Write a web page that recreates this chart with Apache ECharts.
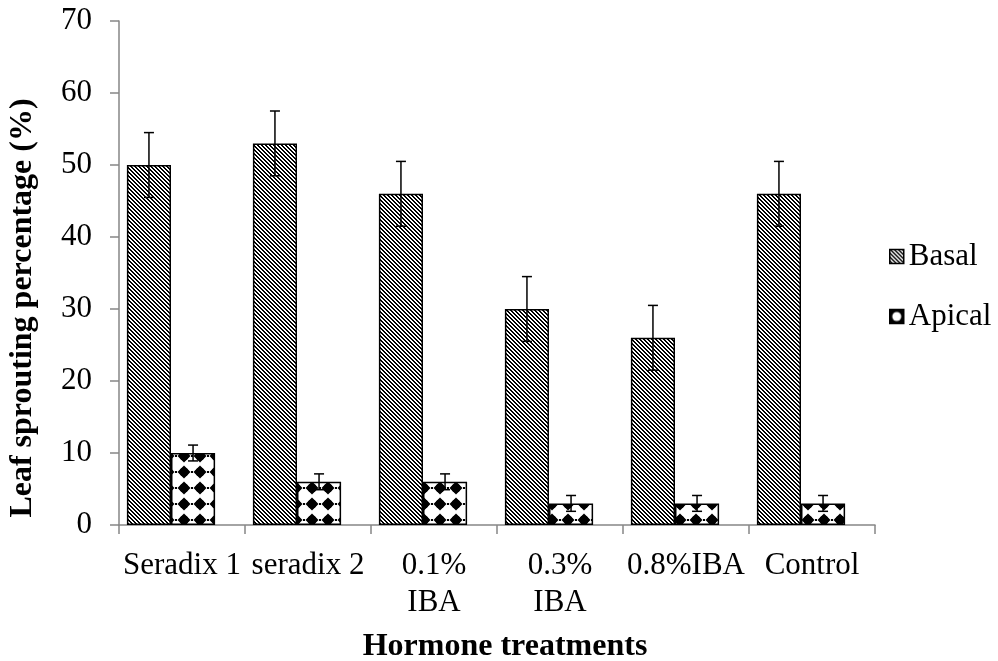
<!DOCTYPE html>
<html>
<head>
<meta charset="utf-8">
<script src="https://cdn.jsdelivr.net/npm/echarts@6/dist/echarts.min.js"></script>
<style>
  html, body { margin: 0; padding: 0; background: #ffffff; }
  #chart { width: 998px; height: 661px; }
</style>
</head>
<body>
<div id="chart"></div>
<script>
// Hormone treatments and leaf sprouting (%) by cutting position
const categories = ['Seradix 1', 'seradix 2', '0.1%\nIBA', '0.3%\nIBA', '0.8%IBA', 'Control'];
const basal = [50, 53, 46, 30, 26, 46];
const apical = [10, 6, 6, 3, 3, 3];
const basalErr = [4.5, 4.5, 4.5, 4.5, 4.5, 4.5];
const apicalErr = [1.1, 1.1, 1.1, 1.1, 1.1, 1.1];
const yTicks = [0, 10, 20, 30, 40, 50, 60, 70];

const FONT = 'Liberation Serif';
const AXIS_GRAY = '#868686';

// Downward diagonal hatch fill
function hatchPattern() {
  const c = document.createElement('canvas');
  c.width = 8; c.height = 8;
  const ctx = c.getContext('2d');
  ctx.fillStyle = '#ffffff';
  ctx.fillRect(0, 0, 8, 8);
  ctx.fillStyle = '#000000';
  for (let y = 0; y < 8; y++) {
    for (let x = 0; x < 8; x++) {
      const m = ((x - y) % 4 + 4) % 4;
      if (m === 0 || m === 1) ctx.fillRect(x, y, 1, 1);
    }
  }
  return c;
}

// Solid diamond fill
function diamondPattern() {
  const s = 16;
  const c = document.createElement('canvas');
  c.width = s; c.height = s;
  const ctx = c.getContext('2d');
  ctx.fillStyle = '#ffffff';
  ctx.fillRect(0, 0, s, s);
  ctx.fillStyle = '#000000';
  const cx = 8, cy = 8;
  ctx.beginPath();
  ctx.moveTo(cx, cy - 6.5); ctx.lineTo(cx + 6.5, cy); ctx.lineTo(cx, cy + 6.5); ctx.lineTo(cx - 6.5, cy);
  ctx.closePath();
  ctx.fill();
  ctx.beginPath();
  ctx.arc(cx, cy, 4.6, 0, Math.PI * 2);
  ctx.fill();
  // short dashes between motifs
  ctx.fillRect(0, 7, 1, 2);
  ctx.fillRect(15, 7, 1, 2);
  return c;
}

// Legend swatch for the diamond series
function apicalSwatch() {
  const s = 14;
  const c = document.createElement('canvas');
  c.width = s; c.height = s;
  const ctx = c.getContext('2d');
  ctx.fillStyle = '#000000';
  ctx.fillRect(0, 0, s, s);
  ctx.fillStyle = '#ffffff';
  ctx.beginPath();
  ctx.arc(7, 7, 4.5, 0, Math.PI * 2);
  ctx.fill();
  return c;
}

const hatch = hatchPattern();
const diamonds = diamondPattern();
const swatch = apicalSwatch();

const BAR_CATEGORY_GAP = 0.3;

function errorData(values, errs, side) {
  return values.map((v, i) => [i, v, errs[i], side]);
}

function renderError(params, api) {
  const idx = api.value(0);
  const v = api.value(1);
  const e = api.value(2);
  const side = api.value(3);
  const band = api.size([1, 0])[0];
  const barW = band * (1 - BAR_CATEGORY_GAP) / 2;
  const offset = side === 0 ? -barW / 2 : barW / 2;
  const hi = api.coord([idx, v + e]);
  const lo = api.coord([idx, v - e]);
  const x = hi[0] + offset;
  const cap = 5;
  const style = { stroke: '#000000', lineWidth: 1.5 };
  return {
    type: 'group',
    children: [
      { type: 'line', shape: { x1: x, y1: hi[1], x2: x, y2: lo[1] }, style },
      { type: 'line', shape: { x1: x - cap, y1: hi[1], x2: x + cap, y2: hi[1] }, style },
      { type: 'line', shape: { x1: x - cap, y1: lo[1], x2: x + cap, y2: lo[1] }, style }
    ]
  };
}

const chart = echarts.init(document.getElementById('chart'), null, { renderer: 'canvas' });

const yRange = {
  min: yTicks[0],
  max: yTicks[yTicks.length - 1],
  interval: yTicks[1] - yTicks[0]
};

chart.setOption({
  backgroundColor: '#ffffff',
  animation: false,
  textStyle: { fontFamily: FONT, color: '#000000' },
  grid: [
    // visible axes
    { left: 119, right: 123, top: 21, bottom: 136, containLabel: false, outerBoundsMode: 'none' },
    // bar clusters sit slightly left of each category centre
    { left: 108, right: 134, top: 21, bottom: 136, containLabel: false, outerBoundsMode: 'none' }
  ],
  legend: {
    orient: 'vertical',
    left: 884,
    top: 236,
    itemWidth: 14,
    itemHeight: 14,
    itemGap: 29,
    icon: 'rect',
    textStyle: { fontFamily: FONT, fontSize: 31, color: '#000000' },
    data: [
      { name: 'Basal', itemStyle: { color: { image: hatch, repeat: 'repeat' }, borderColor: '#000', borderWidth: 1.5 } },
      { name: 'Apical', itemStyle: { color: { image: swatch, repeat: 'no-repeat' }, borderColor: '#000', borderWidth: 1.5 } }
    ]
  },
  xAxis: [
    {
      gridIndex: 0,
      type: 'category',
      data: categories,
      name: 'Hormone treatments',
      nameLocation: 'middle',
      nameGap: 106,
      nameTextStyle: { fontFamily: FONT, fontSize: 32, fontWeight: 'bold', color: '#000000', padding: [0, 0, 0, 16] },
      axisLine: { lineStyle: { color: AXIS_GRAY, width: 1.5 } },
      axisTick: { show: true, length: 9, lineStyle: { color: AXIS_GRAY, width: 1.5 } },
      axisLabel: { interval: 0, margin: 22, fontFamily: FONT, fontSize: 31, lineHeight: 37, color: '#000000' },
      splitLine: { show: false }
    },
    {
      gridIndex: 1,
      type: 'category',
      data: categories,
      show: false
    }
  ],
  yAxis: [
    {
      gridIndex: 0,
      type: 'value',
      min: yRange.min,
      max: yRange.max,
      interval: yRange.interval,
      name: 'Leaf sprouting percentage (%)',
      nameLocation: 'middle',
      nameRotate: 90,
      nameGap: 80,
      nameTextStyle: { fontFamily: FONT, fontSize: 32, fontWeight: 'bold', color: '#000000', padding: [0, 70, 0, 0] },
      axisLine: { show: true, lineStyle: { color: AXIS_GRAY, width: 1.5 } },
      axisTick: { show: true, length: 9, lineStyle: { color: AXIS_GRAY, width: 1.5 } },
      axisLabel: { margin: 27, fontFamily: FONT, fontSize: 31, color: '#000000' },
      splitLine: { show: false }
    },
    {
      gridIndex: 1,
      type: 'value',
      min: yRange.min,
      max: yRange.max,
      interval: yRange.interval,
      show: false,
      splitLine: { show: false }
    }
  ],
  series: [
    {
      name: 'Basal',
      type: 'bar',
      xAxisIndex: 1,
      yAxisIndex: 1,
      data: basal,
      barGap: '0%',
      barCategoryGap: (BAR_CATEGORY_GAP * 100) + '%',
      itemStyle: { color: { image: hatch, repeat: 'repeat' }, borderColor: '#000000', borderWidth: 1.5 }
    },
    {
      name: 'Apical',
      type: 'bar',
      xAxisIndex: 1,
      yAxisIndex: 1,
      data: apical,
      itemStyle: { color: { image: diamonds, repeat: 'repeat' }, borderColor: '#000000', borderWidth: 1.5 }
    },
    {
      type: 'custom',
      name: 'Basal error',
      xAxisIndex: 1,
      yAxisIndex: 1,
      renderItem: renderError,
      data: errorData(basal, basalErr, 0),
      z: 10,
      silent: true
    },
    {
      type: 'custom',
      name: 'Apical error',
      xAxisIndex: 1,
      yAxisIndex: 1,
      renderItem: renderError,
      data: errorData(apical, apicalErr, 1),
      z: 10,
      silent: true
    }
  ]
});
</script>
</body>
</html>
